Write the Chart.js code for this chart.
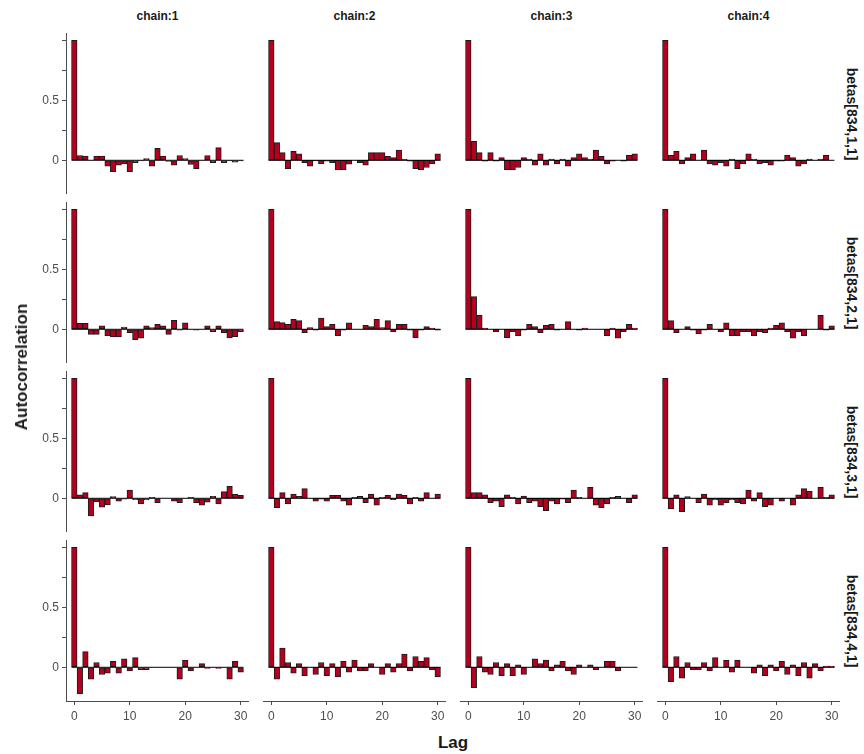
<!DOCTYPE html>
<html>
<head>
<meta charset="utf-8">
<script src="https://cdn.jsdelivr.net/npm/chart.js@4.4.0/dist/chart.umd.min.js"></script>
<style>
  body { margin: 0; background: #fff; font-family: "Liberation Sans", Arial, sans-serif; }
  #wrap { position: relative; width: 864px; height: 754px; overflow: hidden; }
  #wrap canvas { position: absolute; }
  .lbl { position: absolute; font-weight: bold; color: #1a1a1a; white-space: nowrap; }
</style>
</head>
<body>
<div id="wrap"></div>
<script>
// Facet labels and ticks
const chains = ['chain:1', 'chain:2', 'chain:3', 'chain:4'];
const params = ['betas[834,1,1]', 'betas[834,2,1]', 'betas[834,3,1]', 'betas[834,4,1]'];
const lags = [0, 1, 2, 3, 4, 5, 6, 7, 8, 9, 10, 11, 12, 13, 14, 15, 16, 17, 18, 19, 20,
              21, 22, 23, 24, 25, 26, 27, 28, 29, 30];
const xTickValues = [0, 10, 20, 30];
const yTickValues = [0, 0.25, 0.5, 0.75, 1];
const yTickLabels = ['0', '', '0.5', '', ''];

// Autocorrelation per lag, one array per parameter (row) and chain (column)
const acf_1_1 = [1.0, 0.04, 0.035, 0.0, 0.035, 0.035, -0.05, -0.095, -0.04, -0.03, -0.095, -0.02, -0.005, 0.015, -0.05, 0.1,
                 0.035, -0.01, -0.04, 0.04, 0.015, -0.035, -0.07, 0.0, 0.04, -0.02, 0.105, -0.02, -0.005, -0.015, -0.005];
const acf_1_2 = [1.0, 0.147, 0.064, -0.07, 0.075, 0.053, -0.02, -0.05, -0.005, -0.03, -0.008, -0.02, -0.08, -0.08, -0.033, 0.0,
                 -0.02, -0.04, 0.064, 0.064, 0.064, 0.033, 0.022, 0.086, 0.011, -0.008, -0.07, -0.08, -0.06, -0.03, 0.053];
const acf_1_3 = [1.0, 0.158, 0.064, -0.008, 0.064, -0.008, 0.022, -0.08, -0.08, -0.06, 0.022, 0.011, -0.04, 0.053, -0.04, 0.011,
                 -0.03, 0.011, -0.05, 0.022, 0.053, 0.022, 0.011, 0.086, 0.033, -0.03, -0.008, 0.0, -0.008, 0.042, 0.053];
const acf_1_4 = [1.0, 0.042, 0.075, -0.03, 0.022, 0.053, 0.0, 0.086, -0.03, -0.04, -0.02, -0.05, 0.011, -0.07, -0.03, 0.053,
                 0.011, -0.03, -0.02, -0.04, -0.008, -0.008, 0.042, 0.022, -0.05, -0.03, 0.011, 0.0, 0.011, 0.042, 0.0];

const acf_2_1 = [1.0, 0.05, 0.05, -0.042, -0.042, 0.028, -0.053, -0.064, -0.064, 0.019, -0.028, -0.086, -0.075, 0.028, 0.014, 0.042,
                 0.028, -0.042, 0.075, -0.008, 0.053, 0.0, -0.008, 0.0, 0.028, -0.019, 0.028, -0.028, -0.07, -0.061, -0.019];
const acf_2_2 = [1.0, 0.064, 0.056, 0.042, 0.083, 0.072, -0.028, 0.014, -0.008, 0.094, 0.022, 0.042, -0.053, -0.008, 0.053, 0.0,
                 0.0, 0.033, 0.022, 0.083, 0.014, 0.072, -0.019, 0.042, 0.042, -0.008, -0.07, -0.008, 0.022, 0.011, -0.008];
const acf_2_3 = [1.0, 0.272, 0.117, 0.011, 0.0, -0.019, 0.0, -0.07, -0.019, -0.053, -0.008, 0.042, 0.022, -0.028, 0.033, 0.042,
                 -0.008, 0.0, 0.064, 0.0, -0.008, 0.011, 0.0, 0.0, 0.0, -0.053, 0.011, -0.075, -0.019, 0.042, 0.011];
const acf_2_4 = [1.0, 0.072, -0.028, 0.0, 0.022, -0.008, -0.039, -0.008, 0.042, 0.0, -0.019, 0.053, -0.053, -0.053, -0.019, -0.019,
                 -0.053, -0.019, -0.028, 0.011, 0.033, 0.053, -0.019, -0.075, -0.019, -0.053, 0.0, 0.0, 0.117, -0.008, 0.028];

const acf_3_1 = [1.0, 0.028, 0.047, -0.147, -0.028, -0.075, -0.056, 0.014, -0.025, -0.008, 0.069, -0.011, -0.047, -0.014, 0.008, -0.036,
                 0.0, 0.0, -0.025, -0.036, 0.0, 0.008, -0.036, -0.058, -0.033, 0.017, -0.047, 0.056, 0.1, 0.033, 0.025];
const acf_3_2 = [1.0, -0.078, 0.047, -0.047, 0.036, 0.017, 0.08, 0.0, -0.025, -0.008, -0.025, 0.025, 0.025, -0.025, -0.058, 0.008,
                 0.017, -0.036, 0.036, -0.058, 0.008, 0.025, -0.011, 0.036, 0.025, -0.047, 0.008, -0.025, 0.047, 0.0, 0.036];
const acf_3_3 = [1.0, 0.047, 0.047, 0.028, -0.036, -0.025, -0.069, 0.028, 0.008, -0.047, 0.019, -0.036, -0.025, -0.069, -0.103, -0.025,
                 -0.047, -0.008, -0.036, 0.069, 0.008, 0.0, 0.092, -0.058, -0.078, -0.047, 0.008, 0.017, 0.0, -0.036, 0.028];
const acf_3_4 = [1.0, -0.089, 0.028, -0.111, 0.014, 0.0, -0.036, 0.036, -0.058, -0.014, -0.058, -0.036, -0.014, -0.036, -0.047, 0.069,
                 -0.025, 0.047, -0.069, -0.058, 0.0, -0.025, 0.0, -0.058, 0.028, 0.08, 0.058, 0.0, 0.092, 0.008, 0.028];

const acf_4_1 = [1.0, -0.22, 0.13, -0.1, 0.04, -0.06, -0.05, 0.05, -0.05, 0.07, -0.03, 0.08, -0.02, -0.02, 0.0, 0.0,
                 0.0, 0.0, 0.0, -0.1, 0.06, -0.03, 0.0, 0.03, -0.01, 0.0, -0.01, 0.0, -0.1, 0.05, -0.04];
const acf_4_2 = [1.0, -0.1, 0.16, 0.04, -0.05, 0.03, -0.07, 0.0, -0.06, 0.04, -0.07, 0.03, -0.08, 0.05, -0.04, 0.06,
                 -0.03, -0.03, 0.03, 0.0, -0.06, 0.03, -0.04, 0.03, 0.11, -0.03, 0.09, 0.05, 0.08, -0.02, -0.08];
const acf_4_3 = [1.0, -0.17, 0.09, -0.04, -0.06, 0.04, -0.07, 0.03, -0.07, 0.02, -0.06, 0.0, 0.07, 0.03, 0.06, -0.03,
                 0.02, 0.05, -0.03, -0.06, 0.02, 0.0, 0.02, -0.02, 0.0, 0.05, 0.05, -0.03, 0.0, 0.0, 0.0];
const acf_4_4 = [1.0, -0.12, 0.09, -0.09, 0.04, -0.02, -0.02, 0.04, -0.03, 0.08, 0.0, 0.06, -0.04, 0.06, 0.0, 0.0,
                 -0.05, 0.02, -0.07, 0.02, -0.03, 0.05, -0.06, 0.02, -0.07, 0.04, -0.09, 0.03, -0.03, 0.01, 0.01];

const acfGrid = [
    [acf_1_1, acf_1_2, acf_1_3, acf_1_4],
    [acf_2_1, acf_2_2, acf_2_3, acf_2_4],
    [acf_3_1, acf_3_2, acf_3_3, acf_3_4],
    [acf_4_1, acf_4_2, acf_4_3, acf_4_4]
];

// Panel geometry (plot areas)
const colLefts = [66, 263, 460, 657];
const rowTops = [33, 202, 371, 540];
const panelW = 183;
const panelH = 161;
const yAxisW = 40;
const xAxisH = 26;

const barFill = '#b4001e';
const barEdge = '#1a1a1a';
const axisGrey = '#4d4d4d';
const tickText = '#4d4d4d';

const wrap = document.getElementById('wrap');

function addLabel(text, styles) {
    const el = document.createElement('div');
    el.className = 'lbl';
    el.textContent = text;
    Object.assign(el.style, styles);
    wrap.appendChild(el);
    return el;
}

function makePanel(r, c) {
    const showY = c === 0;
    const showX = r === params.length - 1;
    const left = colLefts[c] - (showY ? yAxisW : 0);
    const width = panelW + (showY ? yAxisW : 0);
    const height = panelH + (showX ? xAxisH : 0);

    const canvas = document.createElement('canvas');
    canvas.width = width;
    canvas.height = height;
    canvas.style.left = left + 'px';
    canvas.style.top = rowTops[r] + 'px';
    canvas.style.width = width + 'px';
    canvas.style.height = height + 'px';
    wrap.appendChild(canvas);

    const values = acfGrid[r][c];
    const barData = lags.map((lag, i) => ({ x: lag, y: values[i] }));
    // zero reference line spanning the bars
    const zeroLine = [
        { x: lags[0] - 0.5, y: 0 },
        { x: lags[lags.length - 1] + 0.5, y: 0 }
    ];

    new Chart(canvas, {
        type: 'bar',
        data: {
            datasets: [
                {
                    type: 'line',
                    data: zeroLine,
                    borderColor: '#000',
                    borderWidth: 1,
                    pointRadius: 0,
                    order: 0
                },
                {
                    type: 'bar',
                    data: barData,
                    backgroundColor: barFill,
                    borderColor: barEdge,
                    borderWidth: 1,
                    borderSkipped: false,
                    barPercentage: 1,
                    categoryPercentage: 1,
                    order: 1
                }
            ]
        },
        options: {
            responsive: false,
            animation: false,
            devicePixelRatio: 1,
            layout: { padding: 0 },
            plugins: { legend: { display: false }, tooltip: { enabled: false } },
            scales: {
                x: {
                    type: 'linear',
                    min: -1.5,
                    max: 31.5,
                    offset: false,
                    display: showX,
                    afterBuildTicks: scale => { scale.ticks = xTickValues.map(v => ({ value: v })); },
                    afterFit: scale => {
                        scale.height = showX ? xAxisH : 0;
                        scale.paddingLeft = 0;
                        scale.paddingRight = 0;
                    },
                    grid: { offset: false, drawOnChartArea: false, drawTicks: true, tickLength: 4, color: axisGrey },
                    border: { display: true, color: axisGrey, width: 1 },
                    ticks: {
                        color: tickText,
                        padding: 4,
                        maxRotation: 0,
                        font: { family: '"Liberation Sans", Arial, sans-serif', size: 12 },
                        callback: v => String(v)
                    }
                },
                y: {
                    type: 'linear',
                    min: -0.281,
                    max: 1.061,
                    offset: false,
                    display: showY,
                    afterBuildTicks: scale => { scale.ticks = yTickValues.map(v => ({ value: v })); },
                    afterFit: scale => {
                        scale.width = showY ? yAxisW : 0;
                        scale.paddingTop = 0;
                        scale.paddingBottom = 0;
                    },
                    grid: { offset: false, drawOnChartArea: false, drawTicks: true, tickLength: 4, color: axisGrey },
                    border: { display: true, color: axisGrey, width: 1 },
                    ticks: {
                        color: tickText,
                        padding: 3,
                        font: { family: '"Liberation Sans", Arial, sans-serif', size: 12 },
                        callback: v => yTickLabels[yTickValues.indexOf(v)] ?? ''
                    }
                }
            }
        }
    });
}

for (let r = 0; r < params.length; r++) {
    for (let c = 0; c < chains.length; c++) {
        makePanel(r, c);
    }
}

// Column strip labels
chains.forEach((name, c) => {
    addLabel(name, {
        left: (colLefts[c] + panelW / 2) + 'px',
        top: '16px',
        fontSize: '12px',
        transform: 'translate(-50%, -50%)'
    });
});

// Row strip labels (rotated, reading top to bottom)
params.forEach((name, r) => {
    addLabel(name, {
        left: '852px',
        top: (rowTops[r] + panelH / 2) + 'px',
        fontSize: '14px',
        transform: 'translate(-50%, -50%) rotate(90deg)'
    });
});

// Axis titles
addLabel('Autocorrelation', {
    left: '22px',
    top: ((rowTops[0] + rowTops[3] + panelH) / 2) + 'px',
    fontSize: '17px',
    transform: 'translate(-50%, -50%) rotate(-90deg)'
});
addLabel('Lag', {
    left: ((colLefts[0] + colLefts[3] + panelW) / 2) + 'px',
    top: '743px',
    fontSize: '17px',
    transform: 'translate(-50%, -50%)'
});
</script>
</body>
</html>
